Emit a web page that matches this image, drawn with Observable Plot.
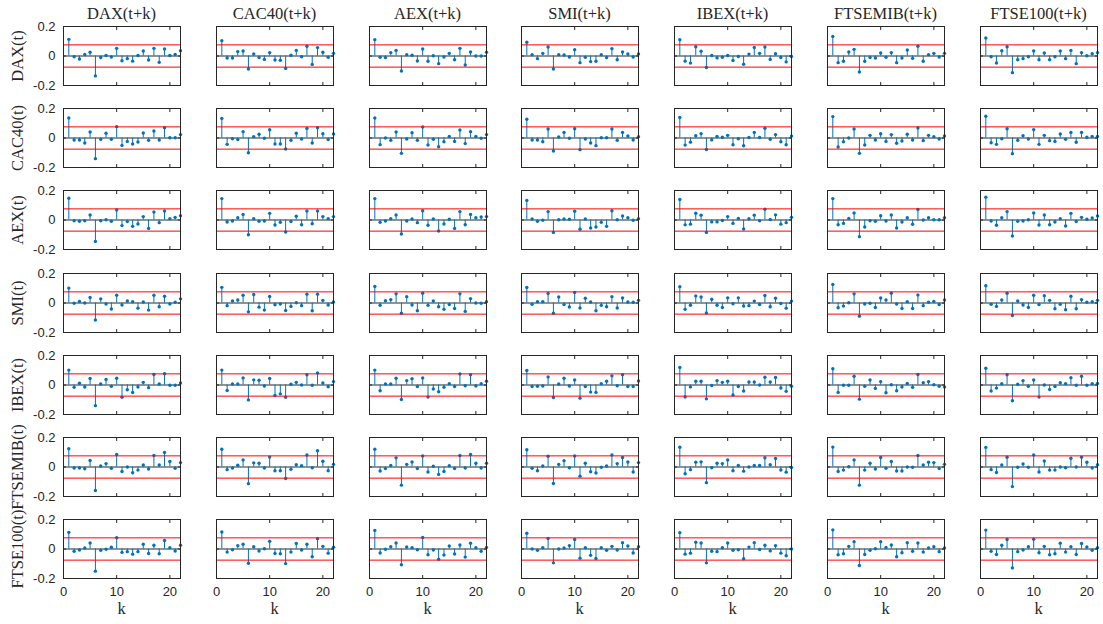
<!DOCTYPE html>
<html>
<head>
<meta charset="utf-8">
<script src="https://cdn.jsdelivr.net/npm/d3@7"></script>
<script src="https://cdn.jsdelivr.net/npm/@observablehq/plot@0.6"></script>
<style>
  body { margin: 0; background: #fff; }
  #chart { position: relative; width: 1103px; height: 624px; overflow: hidden; }
  .panel { position: absolute; }
  .ttl { position: absolute; font-family: "Liberation Serif", "Times New Roman", serif; font-size: 16.5px; color: #262626; white-space: nowrap; transform: translate(-50%, -50%); line-height: 1; }
  .rowlab { position: absolute; font-family: "Liberation Serif", "Times New Roman", serif; font-size: 16.5px; color: #262626; white-space: nowrap; transform: translate(-50%, -50%) rotate(-90deg); line-height: 1; }
</style>
</head>
<body>
<div id="chart"></div>
<script>
// ---- categories & ticks ----
const series = ["DAX", "CAC40", "AEX", "SMI", "IBEX", "FTSEMIB", "FTSE100"];
const lags = [1,2,3,4,5,6,7,8,9,10,11,12,13,14,15,16,17,18,19,20,21,22];
const xTicks = [0, 10, 20];
const yTicks = [-0.2, 0, 0.2];
const yTickLabels = ["-0.2", "0", "0.2"];
const confBound = 0.0755;

// ---- cross-correlations: row series at t, column series at t+k ----
// DAX(t)
const DAX_DAX     = [0.113,-0.005,-0.020,0.010,0.025,-0.135,-0.010,0.003,-0.007,0.052,-0.032,-0.018,-0.035,0.003,0.034,-0.027,0.052,-0.043,0.048,0.003,0.010,0.036];
const DAX_CAC40   = [0.104,-0.014,-0.014,0.030,0.034,-0.088,0.014,-0.011,-0.023,0.023,-0.027,-0.029,-0.084,0.005,0.038,-0.005,0.066,-0.057,0.057,0.025,-0.009,0.018];
const DAX_AEX     = [0.111,-0.009,-0.011,0.023,0.038,-0.102,0.009,0.005,-0.034,0.047,-0.036,0.002,-0.052,-0.007,0.018,-0.025,0.052,-0.061,0.027,0.000,0.000,0.025];
const DAX_SMI     = [0.093,0.009,-0.018,0.018,0.061,-0.088,0.009,0.007,-0.007,0.043,-0.045,-0.009,-0.038,-0.036,0.009,-0.011,0.050,-0.025,0.027,0.014,-0.007,0.014];
const DAX_IBEX    = [0.111,-0.035,-0.048,0.063,0.033,-0.078,0.003,-0.013,-0.008,0.003,-0.030,-0.003,-0.056,0.013,0.058,0.018,0.061,-0.023,0.015,-0.010,-0.040,-0.003];
const DAX_FTSEMIB = [0.133,-0.045,-0.036,0.027,0.045,-0.108,-0.036,-0.011,-0.014,0.020,-0.009,0.023,-0.045,-0.014,0.041,-0.016,0.066,-0.036,0.009,0.018,-0.007,0.018];
const DAX_FTSE100 = [0.122,-0.005,-0.047,0.036,0.063,-0.113,-0.025,-0.018,-0.005,0.034,-0.025,0.020,-0.025,-0.005,0.034,-0.018,0.038,-0.052,0.023,0.002,0.016,0.023];
// CAC40(t)
const CAC40_DAX     = [0.136,-0.014,-0.014,-0.034,0.041,-0.140,-0.009,0.032,-0.009,0.077,-0.050,-0.023,-0.041,-0.027,0.034,-0.016,0.047,-0.014,0.070,0.002,0.002,0.023];
const CAC40_CAC40   = [0.133,-0.043,-0.005,-0.011,0.043,-0.100,0.009,0.025,-0.002,0.056,-0.041,-0.041,-0.075,-0.016,0.032,-0.007,0.065,-0.034,0.070,0.029,-0.011,0.027];
const CAC40_AEX     = [0.136,-0.045,0.000,-0.016,0.041,-0.104,-0.007,0.036,-0.016,0.075,-0.047,-0.009,-0.059,-0.025,0.011,-0.023,0.054,-0.038,0.043,0.011,-0.002,0.023];
const CAC40_SMI     = [0.127,-0.014,-0.014,-0.025,0.061,-0.088,0.007,0.038,-0.002,0.063,-0.079,-0.007,-0.034,-0.052,0.002,0.002,0.061,-0.016,0.038,0.014,-0.014,0.009];
const CAC40_IBEX    = [0.139,-0.048,-0.028,0.015,0.030,-0.078,-0.013,0.010,0.005,0.018,-0.046,-0.005,-0.053,0.003,0.038,0.003,0.066,-0.008,0.023,-0.025,-0.046,0.013];
const CAC40_FTSEMIB = [0.145,-0.061,-0.025,0.000,0.061,-0.104,-0.047,0.018,-0.014,0.029,-0.023,0.023,-0.036,-0.020,0.025,-0.014,0.068,-0.018,0.018,0.009,-0.007,0.014];
const CAC40_FTSE100 = [0.147,-0.032,-0.043,-0.005,0.063,-0.106,-0.016,0.016,-0.007,0.057,-0.043,0.018,-0.018,-0.023,0.027,-0.009,0.038,-0.029,0.038,0.005,0.011,0.011];
// AEX(t)
const AEX_DAX     = [0.147,-0.005,-0.009,-0.005,0.034,-0.145,-0.005,0.002,-0.009,0.068,-0.038,-0.011,-0.043,-0.027,0.023,-0.057,0.054,-0.018,0.061,0.009,0.018,0.029];
const AEX_CAC40   = [0.145,-0.014,-0.007,0.016,0.038,-0.100,0.009,-0.009,-0.007,0.045,-0.034,-0.016,-0.081,-0.011,0.025,-0.032,0.061,-0.025,0.061,0.023,0.009,0.023];
const AEX_AEX     = [0.145,-0.016,-0.007,0.009,0.034,-0.095,-0.007,0.007,-0.018,0.063,-0.036,0.007,-0.075,-0.027,0.005,-0.057,0.057,-0.032,0.038,0.016,0.020,0.023];
const AEX_SMI     = [0.133,0.007,-0.009,-0.002,0.057,-0.084,0.002,0.007,0.005,0.059,-0.063,0.007,-0.054,-0.047,-0.016,-0.043,0.063,0.002,0.027,0.016,-0.002,0.009];
const AEX_IBEX    = [0.139,-0.033,-0.028,0.046,0.033,-0.084,-0.013,-0.013,-0.003,0.023,-0.023,0.010,-0.061,0.008,0.033,-0.005,0.073,0.003,0.035,-0.028,-0.018,0.018];
const AEX_FTSEMIB = [0.145,-0.032,-0.023,0.011,0.047,-0.113,-0.047,-0.005,-0.009,0.029,-0.007,0.034,-0.054,-0.014,0.016,-0.029,0.072,0.000,0.016,0.002,0.002,0.016];
const AEX_FTSE100 = [0.154,-0.007,-0.036,0.016,0.057,-0.108,-0.009,-0.007,0.002,0.047,-0.034,0.034,-0.032,-0.014,0.009,-0.041,0.045,-0.011,0.018,0.005,0.014,0.027];
// SMI(t)
const SMI_DAX     = [0.101,-0.002,0.011,0.000,0.037,-0.115,0.028,-0.007,-0.041,0.053,-0.014,0.014,0.009,-0.035,0.007,-0.048,0.053,-0.025,0.046,-0.007,0.005,0.028];
const SMI_CAC40   = [0.106,-0.018,0.014,0.021,0.053,-0.060,0.058,-0.028,-0.048,0.044,-0.012,-0.007,-0.051,-0.023,0.002,-0.018,0.060,-0.053,0.060,0.018,-0.014,0.007];
const SMI_AEX     = [0.112,-0.016,0.016,0.023,0.062,-0.069,0.043,-0.014,-0.053,0.066,-0.016,0.014,-0.025,-0.043,-0.011,-0.037,0.062,-0.057,0.030,0.000,-0.002,0.009];
const SMI_SMI     = [0.105,-0.009,0.009,0.009,0.064,-0.069,0.041,-0.011,-0.027,0.071,-0.034,0.032,0.007,-0.053,-0.016,-0.025,0.043,-0.034,0.034,0.007,0.005,0.018];
const SMI_IBEX    = [0.111,-0.043,-0.015,0.048,0.041,-0.068,0.025,-0.015,-0.030,0.035,-0.005,0.035,-0.020,-0.018,0.013,-0.010,0.051,-0.025,0.033,-0.003,-0.035,0.013];
const SMI_FTSEMIB = [0.126,-0.032,-0.021,0.002,0.062,-0.089,-0.007,-0.002,-0.030,0.034,0.021,0.066,-0.007,-0.037,0.009,-0.037,0.055,-0.018,0.005,0.011,-0.011,0.021];
const SMI_FTSE100 = [0.117,-0.009,-0.023,0.021,0.066,-0.085,0.014,-0.014,-0.030,0.053,-0.011,0.050,0.018,-0.039,-0.009,-0.046,0.046,-0.039,0.023,0.005,0.009,0.018];
// IBEX(t)
const IBEX_DAX     = [0.101,-0.016,0.012,-0.014,0.044,-0.140,0.007,0.037,-0.009,0.046,-0.083,-0.032,-0.051,-0.014,0.018,-0.018,0.071,0.007,0.076,-0.002,-0.002,0.014];
const IBEX_CAC40   = [0.101,-0.037,0.007,0.007,0.048,-0.101,0.035,0.032,-0.007,0.044,-0.071,-0.060,-0.083,0.005,0.018,0.000,0.069,-0.002,0.081,0.014,-0.012,0.023];
const IBEX_AEX     = [0.101,-0.039,0.007,0.007,0.046,-0.098,0.030,0.043,-0.011,0.048,-0.082,-0.027,-0.046,-0.016,0.009,-0.011,0.075,-0.005,0.069,-0.007,0.009,0.025];
const IBEX_SMI     = [0.098,-0.011,-0.009,-0.007,0.055,-0.085,0.007,0.046,-0.007,0.034,-0.089,-0.011,-0.048,-0.050,0.009,0.025,0.062,-0.005,0.069,-0.011,-0.011,0.027];
const IBEX_IBEX    = [0.119,-0.081,-0.013,0.025,0.025,-0.094,-0.003,0.030,0.018,0.025,-0.068,-0.010,-0.041,0.020,0.020,0.000,0.053,0.020,0.051,-0.020,-0.043,-0.008];
const IBEX_FTSEMIB = [0.110,-0.050,-0.002,-0.002,0.059,-0.096,-0.009,0.034,-0.023,0.023,-0.053,0.002,-0.039,-0.014,0.011,-0.016,0.071,0.016,0.023,0.002,-0.009,-0.014];
const IBEX_FTSE100 = [0.114,-0.041,-0.021,0.009,0.069,-0.107,0.005,0.030,-0.009,0.034,-0.082,0.000,-0.030,-0.011,0.016,0.009,0.050,-0.002,0.059,-0.002,0.009,0.011];
// FTSEMIB(t)
const FTSEMIB_DAX     = [0.124,-0.007,-0.007,-0.012,0.044,-0.159,0.007,0.023,-0.009,0.085,-0.030,0.000,-0.039,-0.021,0.014,-0.014,0.078,0.014,0.099,0.037,-0.009,0.030];
const FTSEMIB_CAC40   = [0.120,-0.018,-0.007,0.012,0.048,-0.113,0.028,0.025,-0.007,0.067,-0.025,-0.025,-0.078,-0.016,0.016,0.009,0.081,-0.005,0.110,0.039,-0.025,0.018];
const FTSEMIB_AEX     = [0.121,-0.027,-0.011,0.011,0.062,-0.123,0.018,0.034,-0.011,0.075,-0.034,0.005,-0.050,-0.030,0.009,-0.011,0.078,-0.007,0.085,0.025,-0.007,0.025];
const FTSEMIB_SMI     = [0.117,-0.009,-0.025,0.007,0.073,-0.112,0.018,0.043,-0.005,0.075,-0.062,0.025,-0.032,-0.041,-0.002,0.007,0.082,0.023,0.064,0.034,-0.034,0.030];
const FTSEMIB_IBEX    = [0.134,-0.046,-0.018,0.033,0.035,-0.106,-0.005,0.025,0.023,0.048,-0.025,0.010,-0.028,0.000,0.010,0.010,0.063,0.015,0.058,-0.020,-0.035,-0.003];
const FTSEMIB_FTSEMIB = [0.135,-0.030,-0.021,0.002,0.048,-0.123,-0.021,0.025,-0.014,0.064,-0.009,0.037,-0.027,-0.027,0.000,-0.002,0.078,0.014,0.032,0.030,-0.011,0.018];
const FTSEMIB_FTSE100 = [0.133,-0.018,-0.037,0.014,0.066,-0.133,-0.002,0.021,-0.002,0.082,-0.034,0.041,-0.021,-0.021,0.000,-0.005,0.059,0.000,0.066,0.032,-0.007,0.016];
// FTSE100(t)
const FTSE100_DAX     = [0.113,-0.016,-0.007,0.007,0.041,-0.150,-0.009,-0.002,0.012,0.076,-0.023,-0.018,-0.035,-0.018,0.032,-0.030,0.025,-0.032,0.058,0.009,-0.014,0.025];
const FTSE100_CAC40   = [0.115,-0.021,-0.005,0.023,0.032,-0.097,0.016,-0.014,0.002,0.053,-0.030,-0.032,-0.099,-0.021,0.037,-0.007,0.032,-0.053,0.069,0.018,-0.028,0.012];
const FTSE100_AEX     = [0.126,-0.027,-0.002,0.016,0.041,-0.107,0.014,0.009,-0.005,0.078,-0.039,-0.007,-0.069,-0.041,0.021,-0.034,0.027,-0.055,0.039,0.009,-0.016,0.011];
const FTSE100_SMI     = [0.107,0.000,-0.009,0.009,0.071,-0.094,0.000,0.007,0.023,0.064,-0.062,0.009,-0.043,-0.064,0.009,-0.009,0.018,-0.007,0.043,0.021,-0.027,0.016];
const FTSE100_IBEX    = [0.111,-0.035,-0.028,0.046,0.041,-0.094,-0.015,-0.018,0.008,0.041,-0.008,-0.005,-0.066,0.013,0.043,-0.003,0.025,-0.013,0.023,-0.028,-0.046,0.000];
const FTSE100_FTSEMIB = [0.130,-0.039,-0.032,0.018,0.050,-0.112,-0.037,-0.009,0.002,0.050,0.011,0.027,-0.053,-0.025,0.043,-0.016,0.041,-0.021,0.007,0.016,-0.018,0.007];
const FTSE100_FTSE100 = [0.128,-0.016,-0.037,0.025,0.064,-0.128,-0.018,-0.007,0.016,0.066,-0.025,0.018,-0.039,-0.032,0.039,-0.021,0.016,-0.037,0.037,0.014,-0.009,0.009];

const grid = [
  [DAX_DAX, DAX_CAC40, DAX_AEX, DAX_SMI, DAX_IBEX, DAX_FTSEMIB, DAX_FTSE100],
  [CAC40_DAX, CAC40_CAC40, CAC40_AEX, CAC40_SMI, CAC40_IBEX, CAC40_FTSEMIB, CAC40_FTSE100],
  [AEX_DAX, AEX_CAC40, AEX_AEX, AEX_SMI, AEX_IBEX, AEX_FTSEMIB, AEX_FTSE100],
  [SMI_DAX, SMI_CAC40, SMI_AEX, SMI_SMI, SMI_IBEX, SMI_FTSEMIB, SMI_FTSE100],
  [IBEX_DAX, IBEX_CAC40, IBEX_AEX, IBEX_SMI, IBEX_IBEX, IBEX_FTSEMIB, IBEX_FTSE100],
  [FTSEMIB_DAX, FTSEMIB_CAC40, FTSEMIB_AEX, FTSEMIB_SMI, FTSEMIB_IBEX, FTSEMIB_FTSEMIB, FTSEMIB_FTSE100],
  [FTSE100_DAX, FTSE100_CAC40, FTSE100_AEX, FTSE100_SMI, FTSE100_IBEX, FTSE100_FTSEMIB, FTSE100_FTSE100]
];

// ---- layout ----
const L = { left0: 63, top0: 26, colStep: 152.8, rowStep: 82.17, w: 117, h: 59 };
const M = { l: 42, r: 6, t: 6, b: 32 };
const ink = "#262626";
const stemColor = "#0072BD";
const chart = document.getElementById("chart");

series.forEach((rowName, r) => {
  series.forEach((colName, c) => {
    const vals = grid[r][c];
    const data = lags.map((k, i) => ({ k, v: vals[i] }));
    const isLeft = c === 0, isBottom = r === series.length - 1;
    const tickOnly = { tickSize: -3, fill: "none", label: null, stroke: ink };
    const marks = [
      Plot.ruleY([0], { stroke: ink, strokeWidth: 1 }),
      Plot.ruleX(data, { x: "k", y1: 0, y2: "v", stroke: stemColor, strokeWidth: 1 }),
      Plot.dot(data, { x: "k", y: "v", r: 1.7, fill: stemColor, stroke: "none" }),
      Plot.ruleY([confBound, -confBound], { stroke: "#ff0000", strokeWidth: 1 }),
      Plot.axisX(xTicks, { anchor: "bottom", ...tickOnly }),
      Plot.axisX(xTicks, { anchor: "top", ...tickOnly }),
      Plot.axisY(yTicks, { anchor: "left", ...tickOnly }),
      Plot.axisY(yTicks, { anchor: "right", ...tickOnly }),
      Plot.frame({ stroke: ink, strokeWidth: 1 })
    ];
    if (isBottom) marks.push(Plot.axisX(xTicks, { anchor: "bottom", tickSize: 0, tickPadding: 8, label: null, tickFormat: d => String(d), fill: ink }));
    if (isLeft) marks.push(Plot.axisY(yTicks, { anchor: "left", tickSize: 0, tickPadding: 8, label: null, tickFormat: d => yTickLabels[yTicks.indexOf(d)], fill: ink }));

    const svg = Plot.plot({
      width: L.w + M.l + M.r,
      height: L.h + M.t + M.b,
      marginLeft: M.l, marginRight: M.r, marginTop: M.t, marginBottom: M.b,
      x: { domain: [0, 22] },
      y: { domain: [-0.2, 0.2] },
      style: { background: "transparent", overflow: "visible", fontFamily: "'Liberation Sans', Arial, sans-serif", fontSize: "13px", color: ink, maxWidth: "none" },
      marks
    });
    const div = document.createElement("div");
    div.className = "panel";
    div.style.left = Math.round(L.left0 + c * L.colStep - M.l) + "px";
    div.style.top = Math.round(L.top0 + r * L.rowStep - M.t) + "px";
    div.appendChild(svg);
    chart.appendChild(div);
  });
});

// column titles and k labels
series.forEach((name, c) => {
  const cx = Math.round(L.left0 + c * L.colStep) + L.w / 2;
  const t = document.createElement("div");
  t.className = "ttl";
  t.textContent = name + "(t+k)";
  t.style.left = cx + "px";
  t.style.top = "13.5px";
  chart.appendChild(t);
  const k = document.createElement("div");
  k.className = "ttl";
  k.textContent = "k";
  k.style.left = cx + "px";
  k.style.top = "609px";
  chart.appendChild(k);
});
// row labels
series.forEach((name, r) => {
  const cy = Math.round(L.top0 + r * L.rowStep) + L.h / 2;
  const t = document.createElement("div");
  t.className = "rowlab";
  t.textContent = name + "(t)";
  t.style.left = "17.5px";
  t.style.top = cy + "px";
  chart.appendChild(t);
});
</script>
</body>
</html>
